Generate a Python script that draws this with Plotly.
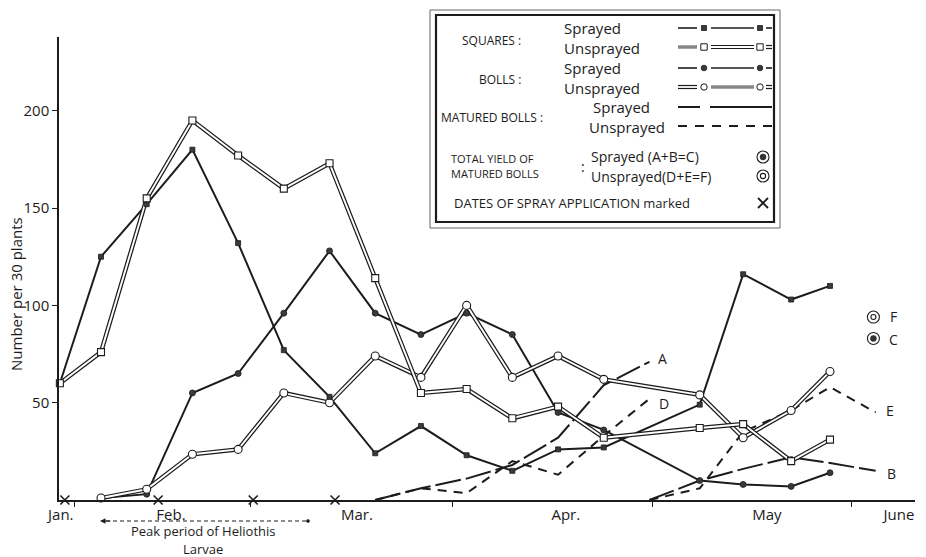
import plotly.graph_objects as go

# ---------------- data ----------------
weeks_squares = [0.1, 1, 2, 3, 4, 5, 6, 7, 8, 9, 10, 11, 12, 14.1, 15.05, 16.1, 16.95]
squares_sprayed = [60, 125, 152, 180, 132, 77, 53, 24, 38, 23, 15, 26, 27, 49, 116, 103, 110]
squares_unsprayed = [60, 76, 155, 195, 177, 160, 173, 114, 55, 57, 42, 48, 32, 37, 39, 20, 31]

weeks_bolls = [1, 2, 3, 4, 5, 6, 7, 8, 9, 10, 11, 12, 14.1, 15.05, 16.1, 16.95]
bolls_sprayed = [1, 3, 55, 65, 96, 128, 96, 85, 96, 85, 45, 36, 10, 8, 7, 14]
bolls_unsprayed = [1, 5.5, 23.5, 26, 55, 50, 74, 63, 100, 63, 74, 62, 54, 32, 46, 66]

weeks_first = [7, 8, 9, 10, 11, 12, 13]
matured_A = [0, 6, 11, 18, 32, 59, 71]      # sprayed, first batch
matured_D = [0, 6, 3.5, 20, 13, 33, 52]     # unsprayed, first batch
weeks_second = [13, 14.1, 15.05, 16.1, 16.95, 17.95]
matured_B = [0, 10, 16, 22, 19, 15]         # sprayed, second batch
matured_E = [0, 6, 35, 46, 58, 45]          # unsprayed, second batch

total_week = [17.9]
total_C = [83]   # sprayed total yield
total_F = [94]   # unsprayed total yield

spray_weeks = [0.21, 2.25, 4.33, 6.12]
spray_level = [0, 0, 0, 0]

month_labels = ["Jan.", "Feb.", "Mar.", "Apr.", "May", "June"]
month_label_pos = [0.12, 2.53, 6.6, 11.17, 15.57, 18.46]
month_starts = [0.41, 4.28, 8.68, 13.07, 17.41]
y_ticks = [50, 100, 150, 200]

# ---------------- geometry helpers (figure pixels -> paper) ----------------
FW, FH = 926, 557
L, R, T, B = 59, 915, 37, 500


def px(x):
    return (x - L) / (R - L)


def py(y):
    return (B - y) / (B - T)


INK = "#1c1c1c"
FONT = "Open Sans"

fig = go.Figure()


def add_line(x, y, dash="solid", width=2.0, color=INK):
    fig.add_trace(go.Scatter(x=x, y=y, mode="lines",
                             line=dict(color=color, width=width, dash=dash),
                             hoverinfo="skip", showlegend=False))


def add_double(x, y):
    add_line(x, y, width=4.4)
    add_line(x, y, width=1.9, color="white")


def add_markers(x, y, symbol, size, fill, lw=1.0):
    fig.add_trace(go.Scatter(x=x, y=y, mode="markers",
                             marker=dict(symbol=symbol, size=size, color=fill,
                                         line=dict(color=INK, width=lw)),
                             cliponaxis=False, hoverinfo="skip", showlegend=False))


# matured bolls
add_line(weeks_first, matured_A, dash="26px,5px", width=2)
add_line(weeks_second, matured_B, dash="26px,5px", width=2)
add_line(weeks_first, matured_D, dash="9px,7px", width=2)
add_line(weeks_second, matured_E, dash="9px,7px", width=2)

# squares and bolls
add_line(weeks_bolls, bolls_sprayed, width=2)
add_double(weeks_bolls, bolls_unsprayed)
add_line(weeks_squares, squares_sprayed, width=2)
add_double(weeks_squares, squares_unsprayed)

add_markers(weeks_bolls, bolls_sprayed, "circle", 6, "#3a3a3a", lw=0.8)
add_markers(weeks_bolls, bolls_unsprayed, "circle", 8, "white", lw=1.1)
add_markers(weeks_squares, squares_sprayed, "square", 5, "#3a3a3a", lw=0.8)
add_markers(weeks_squares, squares_unsprayed, "square", 7, "white", lw=1.1)

# total yields
add_markers(total_week, total_F, "circle-open", 12, INK, lw=1.1)
add_markers(total_week, total_F, "circle-open", 5, INK, lw=1.1)
add_markers(total_week, total_C, "circle-open", 12, INK, lw=1.1)
add_markers(total_week, total_C, "circle", 6, "#333", lw=0.5)

# spray application dates
add_markers(spray_weeks, spray_level, "x-thin", 9, INK, lw=1.6)

# ---------------- legend (decoration, in pixel space) ----------------
shapes = []
shapes.append(dict(type="rect", xref="paper", yref="paper", x0=px(430), x1=px(780), y0=py(228), y1=py(10),
                   line=dict(color="#666", width=1)))
shapes.append(dict(type="rect", xref="paper", yref="paper", x0=px(436), x1=px(774), y0=py(222), y1=py(15),
                   line=dict(color=INK, width=2.2)))


def seg(x0, x1, y, width=1.6, dash="solid", color=INK):
    shapes.append(dict(type="line", xref="paper", yref="paper", x0=px(x0), x1=px(x1), y0=py(y), y1=py(y),
                       line=dict(color=color, width=width, dash=dash)))


def dseg(x0, x1, y):
    seg(x0, x1, y, width=4.2)
    seg(x0, x1, y, width=1.8, color="white")


def dot(cx, cy, r, kind="circle", fill=INK, lw=1.0):
    shapes.append(dict(type=kind, xref="paper", yref="paper",
                       x0=px(cx - r), x1=px(cx + r), y0=py(cy + r), y1=py(cy - r),
                       fillcolor=fill, line=dict(color=INK, width=lw)))


rows = [28, 47, 68, 87, 107, 126]
# squares sprayed
seg(678, 697, rows[0]); seg(711, 754, rows[0]); seg(766, 772, rows[0])
dot(704, rows[0], 2.5, "rect", "#3a3a3a", 0.8); dot(760, rows[0], 2.5, "rect", "#3a3a3a", 0.8)
# squares unsprayed
seg(678, 697, rows[1], width=3.5, color="#888"); dseg(711, 754, rows[1]); dseg(766, 772, rows[1])
dot(704, rows[1], 3.2, "rect", "white", 1); dot(760, rows[1], 3.2, "rect", "white", 1)
# bolls sprayed
seg(678, 697, rows[2]); seg(711, 754, rows[2]); seg(766, 772, rows[2])
dot(704, rows[2], 2.8, "circle", "#3a3a3a", 0.8); dot(760, rows[2], 2.8, "circle", "#3a3a3a", 0.8)
# bolls unsprayed
dseg(678, 697, rows[3]); seg(711, 754, rows[3], width=3.5, color="#888"); dseg(766, 772, rows[3])
dot(704, rows[3], 3.2, "circle", "white", 1); dot(760, rows[3], 3.2, "circle", "white", 1)
# matured sprayed / unsprayed
seg(678, 700, rows[4], width=2); seg(710, 772, rows[4], width=2)
seg(678, 772, rows[5], width=2, dash="9px,8px")
# total yield symbols
dot(763, 157, 6, "circle", "white", 1.1); dot(763, 157, 3, "circle", "#333", 0.5)
dot(763, 176, 6, "circle", "white", 1.1); dot(763, 176, 2.6, "circle", "white", 1.1)
# spray symbol
shapes.append(dict(type="line", xref="paper", yref="paper", x0=px(758), x1=px(768), y0=py(198), y1=py(208),
                   line=dict(color=INK, width=1.8)))
shapes.append(dict(type="line", xref="paper", yref="paper", x0=px(758), x1=px(768), y0=py(208), y1=py(198),
                   line=dict(color=INK, width=1.8)))
# peak period arrow
seg(106, 306, 521, width=1.1, dash="4px,3px")
dot(308, 521, 1.6, "circle", INK, 0.5)

annotations = []


def text(x, y, s, size, anchor="left", angle=0):
    annotations.append(dict(xref="paper", yref="paper", x=px(x), y=py(y), text=s, showarrow=False,
                            xanchor=anchor, yanchor="middle", textangle=angle,
                            font=dict(family=FONT, size=size, color=INK)))


text(460, 40, "SQUARES :", 12)
text(562, 28, "Sprayed", 15)
text(562, 48, "Unsprayed", 15)
text(477, 79, "BOLLS :", 12)
text(562, 68, "Sprayed", 15)
text(562, 88, "Unsprayed", 15)
text(439, 117, "MATURED BOLLS :", 12)
text(591, 107, "Sprayed", 15)
text(587, 127, "Unsprayed", 15)
text(449, 158, "TOTAL YIELD OF", 11)
text(449, 174, "MATURED BOLLS", 11)
text(579, 166, ":", 14)
text(589, 156, "Sprayed (A+B=C)", 14)
text(589, 176, "Unsprayed(D+E=F)", 14)
text(452, 203, "DATES OF SPRAY APPLICATION marked", 13)

for lab, (lx, ly) in {"A": (656, 358), "D": (657, 403), "E": (884, 410), "B": (885, 473),
                      "F": (888, 316), "C": (887, 339)}.items():
    text(lx, ly, lab, 14)

text(203, 531, "Peak period of Heliothis", 13, anchor="center")
text(203, 549, "Larvae", 13, anchor="center")
text(16, 294, "Number per 30 plants", 15, anchor="center", angle=-90)

annotations.append(dict(xref="paper", yref="paper", x=px(100), y=py(521), ax=12, ay=0, text="",
                        showarrow=True, arrowhead=2, arrowsize=1, arrowwidth=1.1, arrowcolor=INK))

fig.update_layout(
    width=FW, height=FH,
    margin=dict(l=L, r=FW - R, t=T, b=FH - B, pad=0),
    paper_bgcolor="white", plot_bgcolor="white",
    showlegend=False,
    font=dict(family=FONT, color=INK),
    xaxis=dict(range=[0.081, 18.81], showline=True, linecolor=INK, linewidth=1.5,
               tickmode="array", tickvals=month_label_pos, ticktext=month_labels, ticks="",
               tickfont=dict(size=15, family=FONT, color=INK), showgrid=False, zeroline=False,
               automargin=False,
               minor=dict(tickmode="array", tickvals=month_starts, ticks="outside", ticklen=5,
                          tickwidth=1.2, tickcolor=INK, showgrid=False)),
    yaxis=dict(range=[0, 237.9], showline=True, linecolor=INK, linewidth=1.5,
               tickmode="array", tickvals=y_ticks, ticks="outside", ticklen=5, tickwidth=1.2,
               tickcolor=INK, tickfont=dict(size=15, family=FONT, color=INK),
               showgrid=False, zeroline=False, automargin=False),
    shapes=shapes,
    annotations=annotations,
)

fig.write_html("out.html", config={"displayModeBar": False},
               post_script="document.body.style.margin='0px';")
